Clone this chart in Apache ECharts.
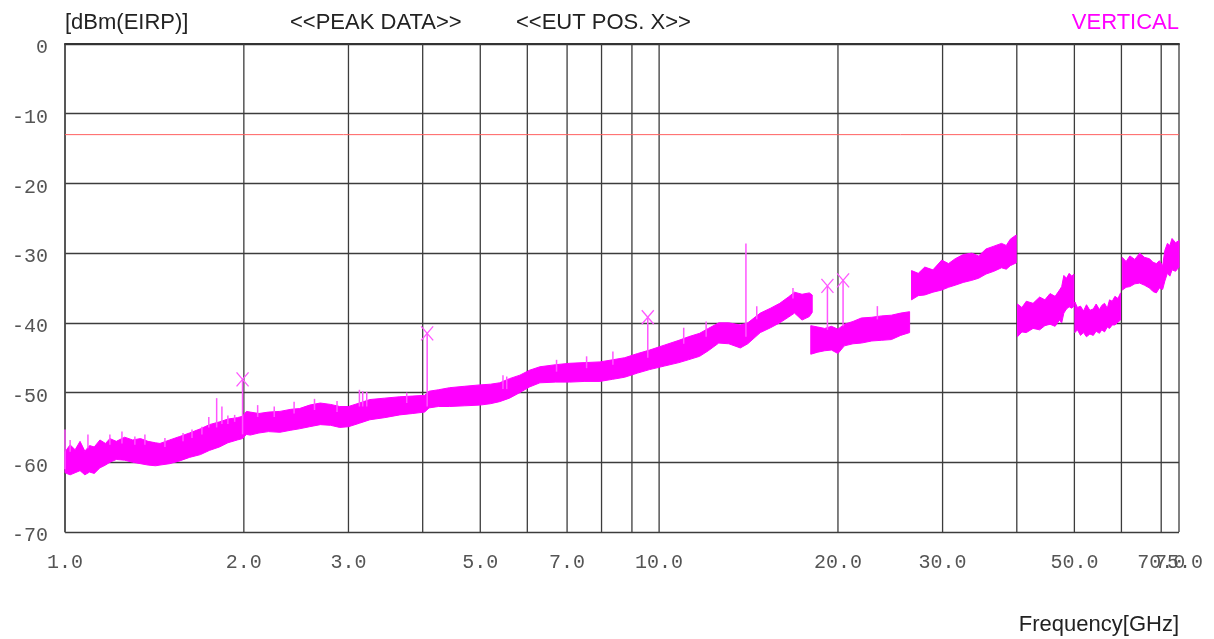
<!DOCTYPE html>
<html><head><meta charset="utf-8">
<script src="https://cdn.jsdelivr.net/npm/echarts@6/dist/echarts.min.js"></script>
<style>html,body{margin:0;padding:0;background:#fff}#c{width:1214px;height:639px}</style>
</head><body><div id="c"></div>
<script>
// ---- Band segments (frequency GHz, upper envelope dBm, lower envelope dBm) ----
const seg1Freq = [1.00,1.02,1.04,1.06,1.08,1.10,1.12,1.145,1.17,1.19,1.22,1.26,1.30,1.34,1.38,1.42,1.445,1.50,1.56,1.62,1.69,1.75,1.82,1.88,1.95,1.99,2.02,2.05,2.12,2.20,2.30,2.40,2.48,2.58,2.69,2.80,2.90,3.00,3.13,3.26,3.45,3.66,3.85,4.03,4.10,4.25,4.44,4.70,4.99,5.20,5.39,5.60,5.83,6.05,6.30,6.70,7.07,7.50,7.95,8.35,8.75,9.20,9.64,10.2,10.8,11.2,11.7,12.1,12.6,13.1,13.7,14.1,14.8,15.4,15.96,16.5,16.9,17.4,17.9,18.1];
const seg1Hi   = [-58.5,-57.5,-58.2,-57.0,-58.4,-57.6,-57.8,-56.8,-57.3,-56.6,-57.0,-56.4,-56.8,-56.6,-57.0,-57.2,-57.3,-56.8,-56.3,-55.8,-55.2,-54.6,-54.2,-53.8,-53.6,-53.4,-52.7,-52.8,-53.0,-52.8,-52.7,-52.4,-52.3,-51.8,-51.5,-51.7,-52.0,-52.0,-51.5,-51.0,-50.8,-50.6,-50.5,-50.4,-49.8,-49.6,-49.3,-49.1,-48.9,-48.8,-48.6,-48.0,-47.5,-46.8,-46.3,-46.0,-45.8,-45.7,-45.6,-45.3,-45.0,-44.4,-43.9,-43.2,-42.5,-42.0,-41.5,-40.8,-40.0,-40.0,-40.3,-40.0,-38.6,-37.9,-37.2,-36.3,-35.6,-35.9,-35.7,-36.0];
const seg1Lo   = [-61.5,-61.8,-61.5,-61.2,-61.8,-61.4,-61.6,-60.8,-60.4,-60.0,-59.6,-59.7,-60.0,-60.2,-60.4,-60.5,-60.4,-60.2,-59.8,-59.3,-58.9,-58.3,-57.8,-57.2,-56.8,-56.6,-56.0,-56.1,-55.8,-55.6,-55.7,-55.4,-55.2,-54.9,-54.6,-54.7,-55.0,-54.9,-54.4,-53.9,-53.6,-53.2,-53.0,-52.8,-52.2,-52.0,-52.0,-51.9,-51.8,-51.6,-51.3,-50.8,-50.0,-49.2,-48.6,-48.5,-48.5,-48.4,-48.4,-48.1,-47.8,-47.2,-46.7,-46.2,-45.7,-45.3,-44.8,-44.0,-42.9,-43.0,-43.6,-43.0,-41.4,-40.7,-40.0,-39.2,-38.6,-39.6,-39.1,-38.5];

const seg2Freq = [18.0,18.5,19.0,19.5,20.0,20.5,21.2,21.9,22.8,23.7,24.6,25.5,26.4];
const seg2Hi   = [-40.4,-40.6,-40.8,-40.5,-40.9,-40.2,-39.8,-39.3,-39.2,-39.0,-38.9,-38.6,-38.4];
const seg2Lo   = [-44.5,-44.2,-44.0,-43.9,-44.4,-43.3,-43.0,-42.9,-42.6,-42.5,-42.4,-41.8,-41.4];

const seg3Freq = [26.6,27.3,28.0,28.9,29.9,30.7,31.5,32.5,33.6,34.5,35.5,36.6,37.7,38.4,39.0,39.9];
const seg3Hi   = [-32.5,-32.9,-32.0,-32.4,-31.0,-31.5,-30.8,-30.2,-30.0,-30.4,-29.4,-29.0,-28.6,-28.9,-28.0,-27.4];
const seg3Lo   = [-36.7,-36.1,-36.0,-35.6,-35.3,-34.9,-34.6,-34.2,-33.9,-33.6,-33.0,-32.6,-32.1,-32.3,-31.8,-31.4];

const seg4Freq = [40.1,40.8,41.5,42.6,43.7,44.6,45.5,46.4,47.2,47.6,48.0,48.5,49.0,49.5,49.9];
const seg4Hi   = [-37.3,-37.8,-36.9,-37.2,-36.3,-36.7,-35.8,-36.2,-35.3,-34.8,-33.2,-33.6,-32.9,-33.3,-33.0];
const seg4Lo   = [-42.0,-41.3,-41.4,-40.8,-41.0,-40.4,-40.2,-40.5,-39.6,-40.0,-38.6,-38.0,-37.7,-37.9,-37.6];

const seg5Freq = [50.1,50.6,51.2,51.8,52.4,53.1,53.8,54.4,55.1,55.6,56.2,56.8,57.3,57.9,58.5,59.2,59.8];
const seg5Hi   = [-37.0,-37.8,-37.6,-38.3,-37.4,-38.2,-38.0,-37.3,-38.1,-37.5,-37.2,-37.9,-36.7,-36.9,-36.2,-36.5,-35.7];
const seg5Lo   = [-41.4,-41.0,-41.8,-41.4,-42.0,-41.6,-41.8,-41.2,-41.5,-41.0,-41.3,-40.6,-40.8,-40.3,-40.3,-39.9,-39.6];

const seg6Freq = [60.2,61.1,62.0,63.2,64.4,65.6,66.9,67.8,68.7,69.5,70.4,71.0,71.7,72.4,73.0,74.0,75.0];
const seg6Hi   = [-30.6,-31.2,-30.4,-30.9,-30.0,-30.6,-30.8,-31.3,-31.5,-31.1,-31.8,-29.6,-28.6,-28.9,-27.9,-28.5,-28.2];
const seg6Lo   = [-35.3,-34.9,-34.8,-34.4,-34.3,-34.6,-35.0,-35.5,-35.7,-35.0,-35.2,-34.0,-32.9,-33.3,-32.4,-32.6,-32.0];

// ---- Narrow spikes (frequency, top, base) ----
const spikeFreq = [1.00,1.02,1.093,1.19,1.247,1.311,1.363,1.473,1.58,1.636,1.70,1.746,1.80,1.837,1.88,1.93,1.99,2.11,2.25,2.43,2.63,2.87,3.13,3.17,3.22,3.76,4.07,5.46,5.54,6.72,7.55,8.36,9.57,11.0,12.0,14.0,14.6,16.8,19.2,20.4,23.3];
const spikeTop  = [-55.3,-56.8,-56.0,-56.0,-55.6,-56.3,-56.0,-56.5,-55.8,-55.3,-54.9,-53.5,-50.8,-52.0,-53.3,-53.2,-48.1,-51.8,-52.0,-51.3,-50.9,-51.2,-49.6,-49.8,-49.9,-50.0,-41.5,-47.5,-47.7,-45.3,-44.8,-44.1,-39.2,-40.7,-39.8,-28.6,-37.6,-35.0,-34.7,-33.9,-37.6];
const spikeBase = [-61.0,-58.5,-58.0,-57.5,-57.3,-57.5,-57.5,-57.8,-57.0,-56.5,-56.0,-55.0,-55.0,-54.5,-54.5,-54.2,-56.0,-53.5,-53.5,-53.0,-52.5,-52.8,-52.0,-52.0,-52.0,-51.5,-52.0,-49.5,-49.5,-47.0,-46.5,-46.0,-45.0,-43.0,-42.0,-42.0,-39.5,-36.5,-41.0,-40.5,-39.5];

// ---- Peak markers (x) ----
const markFreq = [1.99,4.07,9.57,19.2,20.4];
const markVal  = [-48.1,-41.5,-39.2,-34.7,-33.9];

// ---- Limit ----
const limitVal = -13;

// ---- Axes ----
const gridFreqs = [1,2,3,4,5,6,7,8,9,10,20,30,40,50,60,70,75];
const xLabelFreqs = [1,2,3,5,7,10,20,30,50,70,75];
const xLabelText  = ['1.0','2.0','3.0','5.0','7.0','10.0','20.0','30.0','50.0','70.0','75.0'];
const yTickVals = [0,-10,-20,-30,-40,-50,-60,-70];
const yMin = -70, yMax = 0, yStep = 10;

const segments = [
  {f:seg1Freq,hi:seg1Hi,lo:seg1Lo},
  {f:seg2Freq,hi:seg2Hi,lo:seg2Lo},
  {f:seg3Freq,hi:seg3Hi,lo:seg3Lo},
  {f:seg4Freq,hi:seg4Hi,lo:seg4Lo},
  {f:seg5Freq,hi:seg5Hi,lo:seg5Lo},
  {f:seg6Freq,hi:seg6Hi,lo:seg6Lo}
];

const MONO = '"Liberation Mono", "DejaVu Sans Mono", monospace';
const SANS = '"Liberation Sans", Arial, sans-serif';
const MAG = '#ff00ff';

const chart = echarts.init(document.getElementById('c'), null, {renderer:'canvas'});
chart.setOption({
  animation:false,
  backgroundColor:'#fff',
  grid:{left:65, right:35, top:44, bottom:107, containLabel:false},
  xAxis:{type:'log', logBase:10, min:1, max:75,
    axisLine:{show:true, lineStyle:{color:'#333', width:2}},
    axisTick:{show:false}, axisLabel:{show:false}, splitLine:{show:false}},
  yAxis:{type:'value', min:yMin, max:yMax, interval:yStep,
    axisLine:{show:true, lineStyle:{color:'#666', width:1.5}},
    axisTick:{show:false}, axisLabel:{show:false},
    splitLine:{show:true, lineStyle:{color:'#3c3c3c', width:1.3}}},
  graphic:[
    {type:'text', left:65, top:12, style:{text:'[dBm(EIRP)]', font:'22px '+SANS, fill:'#222'}},
    {type:'text', left:290, top:12, style:{text:'<<PEAK DATA>>', font:'22px '+SANS, fill:'#222'}},
    {type:'text', left:516, top:12, style:{text:'<<EUT POS. X>>', font:'22px '+SANS, fill:'#222'}},
    {type:'text', right:35, top:12, style:{text:'VERTICAL', font:'22px '+SANS, fill:MAG}},
    {type:'text', right:35, top:614, style:{text:'Frequency[GHz]', font:'22px '+SANS, fill:'#222'}}
  ],
  series:[
    {type:'custom', name:'vgrid', silent:true, z:1,
      data:gridFreqs.map(f=>[f, yMax]),
      renderItem:(p,api)=>{
        const a=api.coord([api.value(0), yMax]); const b=api.coord([api.value(0), yMin]);
        return {type:'line', shape:{x1:a[0],y1:a[1],x2:b[0],y2:b[1]}, style:{stroke:'#3c3c3c', lineWidth:1.3}};
      }},
    {type:'line', name:'limit', silent:true, z:2, symbol:'none',
      data:[[1,limitVal],[75,limitVal]], lineStyle:{color:'#ff6060', width:1}},
    {type:'custom', name:'band', silent:true, z:3,
      data:segments.map(s=>[s.f[0], s.lo[0]]),
      renderItem:(p,api)=>{
        const s=segments[p.dataIndex];
        const pts=[];
        for(let i=0;i<s.f.length;i++) pts.push(api.coord([s.f[i], s.hi[i]]));
        for(let i=s.f.length-1;i>=0;i--) pts.push(api.coord([s.f[i], s.lo[i]]));
        return {type:'polygon', shape:{points:pts}, style:{fill:MAG, stroke:MAG, lineWidth:1}};
      }},
    {type:'custom', name:'spikes', silent:true, z:4,
      data:spikeFreq.map((f,i)=>[f, spikeTop[i], spikeBase[i]]),
      renderItem:(p,api)=>{
        const a=api.coord([api.value(0), api.value(1)]); const b=api.coord([api.value(0), api.value(2)]);
        return {type:'line', shape:{x1:a[0],y1:a[1],x2:b[0],y2:b[1]}, style:{stroke:'#ff55ff', lineWidth:1.5}};
      }},
    {type:'custom', name:'markers', silent:true, z:5,
      data:markFreq.map((f,i)=>[f, markVal[i]]),
      renderItem:(p,api)=>{
        const c=api.coord([api.value(0), api.value(1)]); const d=6, e=7;
        return {type:'group', children:[
          {type:'line', shape:{x1:c[0]-d,y1:c[1]-e,x2:c[0]+d,y2:c[1]+e}, style:{stroke:'#ff55ff', lineWidth:1.3}},
          {type:'line', shape:{x1:c[0]-d,y1:c[1]+e,x2:c[0]+d,y2:c[1]-e}, style:{stroke:'#ff55ff', lineWidth:1.3}}
        ]};
      }},
    {type:'custom', name:'xlabels', silent:true, z:6, clip:false,
      data:xLabelFreqs.map(f=>[f, yMin]),
      renderItem:(p,api)=>{
        const c=api.coord([api.value(0), yMin]);
        return {type:'text', x:c[0], y:c[1]+31, style:{text:xLabelText[p.dataIndex], textAlign:'center', textVerticalAlign:'middle', font:'20px '+MONO, fill:'#555'}};
      }},
    {type:'custom', name:'ylabels', silent:true, z:6, clip:false,
      data:yTickVals.map(v=>[1, v]),
      renderItem:(p,api)=>{
        const c=api.coord([1, api.value(1)]);
        return {type:'text', x:c[0]-17, y:c[1]+4, style:{text:String(yTickVals[p.dataIndex]), textAlign:'right', textVerticalAlign:'middle', font:'20px '+MONO, fill:'#555'}};
      }}
  ]
});
</script>
</body></html>
